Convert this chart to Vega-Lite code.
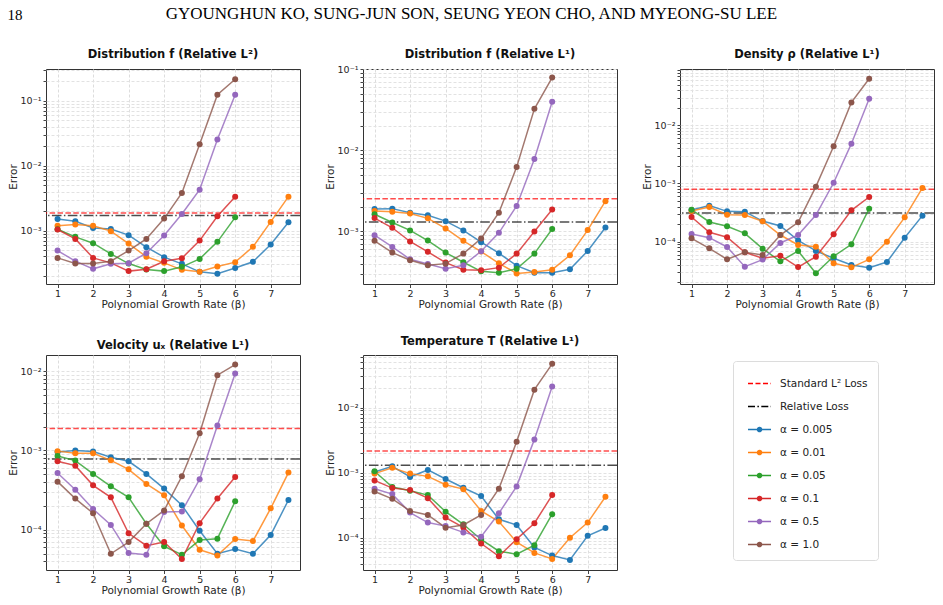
{
"$schema": "https://vega.github.io/schema/vega-lite/v6.json",
"background": "white",
"padding": {"left": 7, "top": 5, "right": 5, "bottom": 5},
"title": {"text": "18", "anchor": "start", "font": "Liberation Serif", "fontSize": 15, "fontWeight": "normal", "color": "#000", "offset": 0, "dy": 18, "frame": "bounds"},
"config": {
 "font": "DejaVu Sans",
 "view": {"stroke": "#333", "strokeWidth": 1},
 "axis": {"labelFont": "DejaVu Sans", "labelFontSize": 9.5, "labelColor": "#262626", "titleFont": "DejaVu Sans", "titleFontSize": 10.5, "titleFontWeight": "normal", "titleColor": "#262626", "tickColor": "#444", "domain": false, "labelPadding": 2, "titlePadding": 2},
 "title": {"font": "DejaVu Sans", "fontSize": 11.5, "fontWeight": "bold", "color": "#111", "offset": 4, "anchor": "middle", "frame": "group"}
},
"datasets": {
 "refs": [
  {"panel":"f2","series":"Standard L² Loss","error":1.87e-3},{"panel":"f2","series":"Relative Loss","error":1.70e-3},
  {"panel":"f1","series":"Standard L² Loss","error":2.52e-3},{"panel":"f1","series":"Relative Loss","error":1.31e-3},
  {"panel":"rho","series":"Standard L² Loss","error":7.94e-4},{"panel":"rho","series":"Relative Loss","error":3.11e-4},
  {"panel":"ux","series":"Standard L² Loss","error":1.89e-3},{"panel":"ux","series":"Relative Loss","error":7.81e-4},
  {"panel":"T","series":"Standard L² Loss","error":2.14e-3},{"panel":"T","series":"Relative Loss","error":1.30e-3}
 ],
 "pts": [
  {"panel":"f2","series":"α = 0.005","beta":1,"error":1.51e-3},{"panel":"f2","series":"α = 0.005","beta":1.5,"error":1.39e-3},{"panel":"f2","series":"α = 0.005","beta":2,"error":1.10e-3},{"panel":"f2","series":"α = 0.005","beta":2.5,"error":1.06e-3},{"panel":"f2","series":"α = 0.005","beta":3,"error":8.5e-4},{"panel":"f2","series":"α = 0.005","beta":3.5,"error":5.55e-4},{"panel":"f2","series":"α = 0.005","beta":4,"error":3.89e-4},{"panel":"f2","series":"α = 0.005","beta":4.5,"error":3.07e-4},{"panel":"f2","series":"α = 0.005","beta":5,"error":2.31e-4},{"panel":"f2","series":"α = 0.005","beta":5.5,"error":2.16e-4},{"panel":"f2","series":"α = 0.005","beta":6,"error":2.64e-4},{"panel":"f2","series":"α = 0.005","beta":6.5,"error":3.30e-4},{"panel":"f2","series":"α = 0.005","beta":7,"error":6.09e-4},{"panel":"f2","series":"α = 0.005","beta":7.5,"error":1.34e-3},
  {"panel":"f2","series":"α = 0.01","beta":1,"error":1.19e-3},{"panel":"f2","series":"α = 0.01","beta":1.5,"error":1.24e-3},{"panel":"f2","series":"α = 0.01","beta":2,"error":1.19e-3},{"panel":"f2","series":"α = 0.01","beta":2.5,"error":9.8e-4},{"panel":"f2","series":"α = 0.01","beta":3,"error":6.3e-4},{"panel":"f2","series":"α = 0.01","beta":3.5,"error":3.94e-4},{"panel":"f2","series":"α = 0.01","beta":4,"error":3.18e-4},{"panel":"f2","series":"α = 0.01","beta":4.5,"error":2.48e-4},{"panel":"f2","series":"α = 0.01","beta":5,"error":2.31e-4},{"panel":"f2","series":"α = 0.01","beta":5.5,"error":2.79e-4},{"panel":"f2","series":"α = 0.01","beta":6,"error":3.26e-4},{"panel":"f2","series":"α = 0.01","beta":6.5,"error":5.61e-4},{"panel":"f2","series":"α = 0.01","beta":7,"error":1.36e-3},{"panel":"f2","series":"α = 0.01","beta":7.5,"error":3.33e-3},
  {"panel":"f2","series":"α = 0.05","beta":1,"error":1.05e-3},{"panel":"f2","series":"α = 0.05","beta":1.5,"error":8.0e-4},{"panel":"f2","series":"α = 0.05","beta":2,"error":6.39e-4},{"panel":"f2","series":"α = 0.05","beta":2.5,"error":4.37e-4},{"panel":"f2","series":"α = 0.05","beta":3,"error":3.10e-4},{"panel":"f2","series":"α = 0.05","beta":3.5,"error":2.51e-4},{"panel":"f2","series":"α = 0.05","beta":4,"error":2.37e-4},{"panel":"f2","series":"α = 0.05","beta":4.5,"error":2.76e-4},{"panel":"f2","series":"α = 0.05","beta":5,"error":3.66e-4},{"panel":"f2","series":"α = 0.05","beta":5.5,"error":6.7e-4},{"panel":"f2","series":"α = 0.05","beta":6,"error":1.60e-3},
  {"panel":"f2","series":"α = 0.1","beta":1,"error":1.04e-3},{"panel":"f2","series":"α = 0.1","beta":1.5,"error":7.44e-4},{"panel":"f2","series":"α = 0.1","beta":2,"error":3.79e-4},{"panel":"f2","series":"α = 0.1","beta":2.5,"error":3.18e-4},{"panel":"f2","series":"α = 0.1","beta":3,"error":2.37e-4},{"panel":"f2","series":"α = 0.1","beta":3.5,"error":2.54e-4},{"panel":"f2","series":"α = 0.1","beta":4,"error":3.37e-4},{"panel":"f2","series":"α = 0.1","beta":4.5,"error":3.75e-4},{"panel":"f2","series":"α = 0.1","beta":5,"error":7.0e-4},{"panel":"f2","series":"α = 0.1","beta":5.5,"error":1.66e-3},{"panel":"f2","series":"α = 0.1","beta":6,"error":3.33e-3},
  {"panel":"f2","series":"α = 0.5","beta":1,"error":4.92e-4},{"panel":"f2","series":"α = 0.5","beta":1.5,"error":3.37e-4},{"panel":"f2","series":"α = 0.5","beta":2,"error":2.57e-4},{"panel":"f2","series":"α = 0.5","beta":2.5,"error":3.07e-4},{"panel":"f2","series":"α = 0.5","beta":3,"error":3.14e-4},{"panel":"f2","series":"α = 0.5","beta":3.5,"error":4.48e-4},{"panel":"f2","series":"α = 0.5","beta":4,"error":8.38e-4},{"panel":"f2","series":"α = 0.5","beta":4.5,"error":1.80e-3},{"panel":"f2","series":"α = 0.5","beta":5,"error":4.27e-3},{"panel":"f2","series":"α = 0.5","beta":5.5,"error":2.54e-2},{"panel":"f2","series":"α = 0.5","beta":6,"error":1.24e-1},
  {"panel":"f2","series":"α = 1.0","beta":1,"error":3.79e-4},{"panel":"f2","series":"α = 1.0","beta":1.5,"error":3.10e-4},{"panel":"f2","series":"α = 1.0","beta":2,"error":3.10e-4},{"panel":"f2","series":"α = 1.0","beta":2.5,"error":3.37e-4},{"panel":"f2","series":"α = 1.0","beta":3,"error":4.92e-4},{"panel":"f2","series":"α = 1.0","beta":3.5,"error":7.44e-4},{"panel":"f2","series":"α = 1.0","beta":4,"error":1.53e-3},{"panel":"f2","series":"α = 1.0","beta":4.5,"error":3.80e-3},{"panel":"f2","series":"α = 1.0","beta":5,"error":2.15e-2},{"panel":"f2","series":"α = 1.0","beta":5.5,"error":1.24e-1},{"panel":"f2","series":"α = 1.0","beta":6,"error":2.15e-1},

  {"panel":"f1","series":"α = 0.005","beta":1,"error":1.89e-3},{"panel":"f1","series":"α = 0.005","beta":1.5,"error":1.91e-3},{"panel":"f1","series":"α = 0.005","beta":2,"error":1.70e-3},{"panel":"f1","series":"α = 0.005","beta":2.5,"error":1.58e-3},{"panel":"f1","series":"α = 0.005","beta":3,"error":1.34e-3},{"panel":"f1","series":"α = 0.005","beta":3.5,"error":1.03e-3},{"panel":"f1","series":"α = 0.005","beta":4,"error":7.38e-4},{"panel":"f1","series":"α = 0.005","beta":4.5,"error":5.39e-4},{"panel":"f1","series":"α = 0.005","beta":5,"error":3.79e-4},{"panel":"f1","series":"α = 0.005","beta":5.5,"error":3.10e-4},{"panel":"f1","series":"α = 0.005","beta":6,"error":3.10e-4},{"panel":"f1","series":"α = 0.005","beta":6.5,"error":3.41e-4},{"panel":"f1","series":"α = 0.005","beta":7,"error":5.75e-4},{"panel":"f1","series":"α = 0.005","beta":7.5,"error":1.12e-3},
  {"panel":"f1","series":"α = 0.01","beta":1,"error":1.79e-3},{"panel":"f1","series":"α = 0.01","beta":1.5,"error":1.75e-3},{"panel":"f1","series":"α = 0.01","beta":2,"error":1.66e-3},{"panel":"f1","series":"α = 0.01","beta":2.5,"error":1.45e-3},{"panel":"f1","series":"α = 0.01","beta":3,"error":1.09e-3},{"panel":"f1","series":"α = 0.01","beta":3.5,"error":7.66e-4},{"panel":"f1","series":"α = 0.01","beta":4,"error":5.65e-4},{"panel":"f1","series":"α = 0.01","beta":4.5,"error":4.05e-4},{"panel":"f1","series":"α = 0.01","beta":5,"error":3.04e-4},{"panel":"f1","series":"α = 0.01","beta":5.5,"error":3.16e-4},{"panel":"f1","series":"α = 0.01","beta":6,"error":3.38e-4},{"panel":"f1","series":"α = 0.01","beta":6.5,"error":5.09e-4},{"panel":"f1","series":"α = 0.01","beta":7,"error":1.04e-3},{"panel":"f1","series":"α = 0.01","beta":7.5,"error":2.36e-3},
  {"panel":"f1","series":"α = 0.05","beta":1,"error":1.63e-3},{"panel":"f1","series":"α = 0.05","beta":1.5,"error":1.29e-3},{"panel":"f1","series":"α = 0.05","beta":2,"error":1.03e-3},{"panel":"f1","series":"α = 0.05","beta":2.5,"error":7.73e-4},{"panel":"f1","series":"α = 0.05","beta":3,"error":5.49e-4},{"panel":"f1","series":"α = 0.05","beta":3.5,"error":4.17e-4},{"panel":"f1","series":"α = 0.05","beta":4,"error":3.22e-4},{"panel":"f1","series":"α = 0.05","beta":4.5,"error":3.10e-4},{"panel":"f1","series":"α = 0.05","beta":5,"error":3.47e-4},{"panel":"f1","series":"α = 0.05","beta":5.5,"error":5.33e-4},{"panel":"f1","series":"α = 0.05","beta":6,"error":1.07e-3},
  {"panel":"f1","series":"α = 0.1","beta":1,"error":1.46e-3},{"panel":"f1","series":"α = 0.1","beta":1.5,"error":1.11e-3},{"panel":"f1","series":"α = 0.1","beta":2,"error":7.52e-4},{"panel":"f1","series":"α = 0.1","beta":2.5,"error":5.60e-4},{"panel":"f1","series":"α = 0.1","beta":3,"error":4.13e-4},{"panel":"f1","series":"α = 0.1","beta":3.5,"error":3.38e-4},{"panel":"f1","series":"α = 0.1","beta":4,"error":3.32e-4},{"panel":"f1","series":"α = 0.1","beta":4.5,"error":3.58e-4},{"panel":"f1","series":"α = 0.1","beta":5,"error":5.33e-4},{"panel":"f1","series":"α = 0.1","beta":5.5,"error":1.0e-3},{"panel":"f1","series":"α = 0.1","beta":6,"error":1.86e-3},
  {"panel":"f1","series":"α = 0.5","beta":1,"error":9.0e-4},{"panel":"f1","series":"α = 0.5","beta":1.5,"error":6.45e-4},{"panel":"f1","series":"α = 0.5","beta":2,"error":4.54e-4},{"panel":"f1","series":"α = 0.5","beta":2.5,"error":3.98e-4},{"panel":"f1","series":"α = 0.5","beta":3,"error":3.47e-4},{"panel":"f1","series":"α = 0.5","beta":3.5,"error":3.83e-4},{"panel":"f1","series":"α = 0.5","beta":4,"error":5.70e-4},{"panel":"f1","series":"α = 0.5","beta":4.5,"error":9.62e-4},{"panel":"f1","series":"α = 0.5","beta":5,"error":2.06e-3},{"panel":"f1","series":"α = 0.5","beta":5.5,"error":7.82e-3},{"panel":"f1","series":"α = 0.5","beta":6,"error":3.97e-2},
  {"panel":"f1","series":"α = 1.0","beta":1,"error":7.66e-4},{"panel":"f1","series":"α = 1.0","beta":1.5,"error":5.49e-4},{"panel":"f1","series":"α = 1.0","beta":2,"error":4.41e-4},{"panel":"f1","series":"α = 1.0","beta":2.5,"error":3.83e-4},{"panel":"f1","series":"α = 1.0","beta":3,"error":4.01e-4},{"panel":"f1","series":"α = 1.0","beta":3.5,"error":5.33e-4},{"panel":"f1","series":"α = 1.0","beta":4,"error":8.18e-4},{"panel":"f1","series":"α = 1.0","beta":4.5,"error":1.70e-3},{"panel":"f1","series":"α = 1.0","beta":5,"error":6.21e-3},{"panel":"f1","series":"α = 1.0","beta":5.5,"error":3.25e-2},{"panel":"f1","series":"α = 1.0","beta":6,"error":7.88e-2},

  {"panel":"rho","series":"α = 0.005","beta":1,"error":3.50e-4},{"panel":"rho","series":"α = 0.005","beta":1.5,"error":4.16e-4},{"panel":"rho","series":"α = 0.005","beta":2,"error":3.32e-4},{"panel":"rho","series":"α = 0.005","beta":2.5,"error":3.28e-4},{"panel":"rho","series":"α = 0.005","beta":3,"error":2.26e-4},{"panel":"rho","series":"α = 0.005","beta":3.5,"error":1.86e-4},{"panel":"rho","series":"α = 0.005","beta":4,"error":1.05e-4},{"panel":"rho","series":"α = 0.005","beta":4.5,"error":6.92e-5},{"panel":"rho","series":"α = 0.005","beta":5,"error":5.17e-5},{"panel":"rho","series":"α = 0.005","beta":5.5,"error":3.97e-5},{"panel":"rho","series":"α = 0.005","beta":6,"error":3.57e-5},{"panel":"rho","series":"α = 0.005","beta":6.5,"error":4.46e-5},{"panel":"rho","series":"α = 0.005","beta":7,"error":1.17e-4},{"panel":"rho","series":"α = 0.005","beta":7.5,"error":2.80e-4},
  {"panel":"rho","series":"α = 0.01","beta":1,"error":3.37e-4},{"panel":"rho","series":"α = 0.01","beta":1.5,"error":3.95e-4},{"panel":"rho","series":"α = 0.01","beta":2,"error":2.91e-4},{"panel":"rho","series":"α = 0.01","beta":2.5,"error":2.87e-4},{"panel":"rho","series":"α = 0.01","beta":3,"error":2.24e-4},{"panel":"rho","series":"α = 0.01","beta":3.5,"error":1.30e-4},{"panel":"rho","series":"α = 0.01","beta":4,"error":8.77e-5},{"panel":"rho","series":"α = 0.01","beta":4.5,"error":8.21e-5},{"panel":"rho","series":"α = 0.01","beta":5,"error":4.25e-5},{"panel":"rho","series":"α = 0.01","beta":5.5,"error":3.62e-5},{"panel":"rho","series":"α = 0.01","beta":6,"error":4.97e-5},{"panel":"rho","series":"α = 0.01","beta":6.5,"error":1.0e-4},{"panel":"rho","series":"α = 0.01","beta":7,"error":2.62e-4},{"panel":"rho","series":"α = 0.01","beta":7.5,"error":8.38e-4},
  {"panel":"rho","series":"α = 0.05","beta":1,"error":3.55e-4},{"panel":"rho","series":"α = 0.05","beta":1.5,"error":2.18e-4},{"panel":"rho","series":"α = 0.05","beta":2,"error":1.84e-4},{"panel":"rho","series":"α = 0.05","beta":2.5,"error":1.39e-4},{"panel":"rho","series":"α = 0.05","beta":3,"error":7.58e-5},{"panel":"rho","series":"α = 0.05","beta":3.5,"error":4.59e-5},{"panel":"rho","series":"α = 0.05","beta":4,"error":6.92e-5},{"panel":"rho","series":"α = 0.05","beta":4.5,"error":2.86e-5},{"panel":"rho","series":"α = 0.05","beta":5,"error":5.6e-5},{"panel":"rho","series":"α = 0.05","beta":5.5,"error":9.0e-5},{"panel":"rho","series":"α = 0.05","beta":6,"error":3.69e-4},
  {"panel":"rho","series":"α = 0.1","beta":1,"error":2.65e-4},{"panel":"rho","series":"α = 0.1","beta":1.5,"error":1.45e-4},{"panel":"rho","series":"α = 0.1","beta":2,"error":1.19e-4},{"panel":"rho","series":"α = 0.1","beta":2.5,"error":6.56e-5},{"panel":"rho","series":"α = 0.1","beta":3,"error":5.17e-5},{"panel":"rho","series":"α = 0.1","beta":3.5,"error":5.74e-5},{"panel":"rho","series":"α = 0.1","beta":4,"error":3.66e-5},{"panel":"rho","series":"α = 0.1","beta":4.5,"error":5.52e-5},{"panel":"rho","series":"α = 0.1","beta":5,"error":1.34e-4},{"panel":"rho","series":"α = 0.1","beta":5.5,"error":3.46e-4},{"panel":"rho","series":"α = 0.1","beta":6,"error":5.86e-4},
  {"panel":"rho","series":"α = 0.5","beta":1,"error":1.35e-4},{"panel":"rho","series":"α = 0.5","beta":1.5,"error":1.17e-4},{"panel":"rho","series":"α = 0.5","beta":2,"error":8.1e-5},{"panel":"rho","series":"α = 0.5","beta":2.5,"error":3.71e-5},{"panel":"rho","series":"α = 0.5","beta":3,"error":4.91e-5},{"panel":"rho","series":"α = 0.5","beta":3.5,"error":9.48e-5},{"panel":"rho","series":"α = 0.5","beta":4,"error":1.30e-4},{"panel":"rho","series":"α = 0.5","beta":4.5,"error":2.87e-4},{"panel":"rho","series":"α = 0.5","beta":5,"error":1.03e-3},{"panel":"rho","series":"α = 0.5","beta":5.5,"error":4.84e-3},{"panel":"rho","series":"α = 0.5","beta":6,"error":2.87e-2},
  {"panel":"rho","series":"α = 1.0","beta":1,"error":1.14e-4},{"panel":"rho","series":"α = 1.0","beta":1.5,"error":7.68e-5},{"panel":"rho","series":"α = 1.0","beta":2,"error":4.97e-5},{"panel":"rho","series":"α = 1.0","beta":2.5,"error":6.56e-5},{"panel":"rho","series":"α = 1.0","beta":3,"error":5.9e-5},{"panel":"rho","series":"α = 1.0","beta":3.5,"error":1.30e-4},{"panel":"rho","series":"α = 1.0","beta":4,"error":2.15e-4},{"panel":"rho","series":"α = 1.0","beta":4.5,"error":8.83e-4},{"panel":"rho","series":"α = 1.0","beta":5,"error":4.36e-3},{"panel":"rho","series":"α = 1.0","beta":5.5,"error":2.48e-2},{"panel":"rho","series":"α = 1.0","beta":6,"error":6.34e-2},

  {"panel":"ux","series":"α = 0.005","beta":1,"error":9.57e-4},{"panel":"ux","series":"α = 0.005","beta":1.5,"error":1.0e-3},{"panel":"ux","series":"α = 0.005","beta":2,"error":9.67e-4},{"panel":"ux","series":"α = 0.005","beta":2.5,"error":8.2e-4},{"panel":"ux","series":"α = 0.005","beta":3,"error":7.3e-4},{"panel":"ux","series":"α = 0.005","beta":3.5,"error":5.05e-4},{"panel":"ux","series":"α = 0.005","beta":4,"error":3.30e-4},{"panel":"ux","series":"α = 0.005","beta":4.5,"error":2.03e-4},{"panel":"ux","series":"α = 0.005","beta":5,"error":9.7e-5},{"panel":"ux","series":"α = 0.005","beta":5.5,"error":4.97e-5},{"panel":"ux","series":"α = 0.005","beta":6,"error":5.7e-5},{"panel":"ux","series":"α = 0.005","beta":6.5,"error":4.97e-5},{"panel":"ux","series":"α = 0.005","beta":7,"error":8.57e-5},{"panel":"ux","series":"α = 0.005","beta":7.5,"error":2.37e-4},
  {"panel":"ux","series":"α = 0.01","beta":1,"error":9.8e-4},{"panel":"ux","series":"α = 0.01","beta":1.5,"error":9.2e-4},{"panel":"ux","series":"α = 0.01","beta":2,"error":9.2e-4},{"panel":"ux","series":"α = 0.01","beta":2.5,"error":7.5e-4},{"panel":"ux","series":"α = 0.01","beta":3,"error":5.78e-4},{"panel":"ux","series":"α = 0.01","beta":3.5,"error":3.78e-4},{"panel":"ux","series":"α = 0.01","beta":4,"error":2.71e-4},{"panel":"ux","series":"α = 0.01","beta":4.5,"error":1.13e-4},{"panel":"ux","series":"α = 0.01","beta":5,"error":5.58e-5},{"panel":"ux","series":"α = 0.01","beta":5.5,"error":4.74e-5},{"panel":"ux","series":"α = 0.01","beta":6,"error":7.62e-5},{"panel":"ux","series":"α = 0.01","beta":6.5,"error":7.19e-5},{"panel":"ux","series":"α = 0.01","beta":7,"error":1.86e-4},{"panel":"ux","series":"α = 0.01","beta":7.5,"error":5.25e-4},
  {"panel":"ux","series":"α = 0.05","beta":1,"error":8.53e-4},{"panel":"ux","series":"α = 0.05","beta":1.5,"error":7.44e-4},{"panel":"ux","series":"α = 0.05","beta":2,"error":5.05e-4},{"panel":"ux","series":"α = 0.05","beta":2.5,"error":3.52e-4},{"panel":"ux","series":"α = 0.05","beta":3,"error":2.56e-4},{"panel":"ux","series":"α = 0.05","beta":3.5,"error":1.19e-4},{"panel":"ux","series":"α = 0.05","beta":4,"error":6.16e-5},{"panel":"ux","series":"α = 0.05","beta":4.5,"error":4.83e-5},{"panel":"ux","series":"α = 0.05","beta":5,"error":7.4e-5},{"panel":"ux","series":"α = 0.05","beta":5.5,"error":7.7e-5},{"panel":"ux","series":"α = 0.05","beta":6,"error":2.28e-4},
  {"panel":"ux","series":"α = 0.1","beta":1,"error":7.3e-4},{"panel":"ux","series":"α = 0.1","beta":1.5,"error":6.43e-4},{"panel":"ux","series":"α = 0.1","beta":2,"error":3.63e-4},{"panel":"ux","series":"α = 0.1","beta":2.5,"error":2.56e-4},{"panel":"ux","series":"α = 0.1","beta":3,"error":9.0e-5},{"panel":"ux","series":"α = 0.1","beta":3.5,"error":6.28e-5},{"panel":"ux","series":"α = 0.1","beta":4,"error":6.98e-5},{"panel":"ux","series":"α = 0.1","beta":4.5,"error":4.26e-5},{"panel":"ux","series":"α = 0.1","beta":5,"error":1.21e-4},{"panel":"ux","series":"α = 0.1","beta":5.5,"error":2.47e-4},{"panel":"ux","series":"α = 0.1","beta":6,"error":4.62e-4},
  {"panel":"ux","series":"α = 0.5","beta":1,"error":5.2e-4},{"panel":"ux","series":"α = 0.5","beta":1.5,"error":3.2e-4},{"panel":"ux","series":"α = 0.5","beta":2,"error":1.82e-4},{"panel":"ux","series":"α = 0.5","beta":2.5,"error":1.15e-4},{"panel":"ux","series":"α = 0.5","beta":3,"error":5.07e-5},{"panel":"ux","series":"α = 0.5","beta":3.5,"error":4.83e-5},{"panel":"ux","series":"α = 0.5","beta":4,"error":1.67e-4},{"panel":"ux","series":"α = 0.5","beta":4.5,"error":1.70e-4},{"panel":"ux","series":"α = 0.5","beta":5,"error":4.32e-4},{"panel":"ux","series":"α = 0.5","beta":5.5,"error":2.06e-3},{"panel":"ux","series":"α = 0.5","beta":6,"error":9.36e-3},
  {"panel":"ux","series":"α = 1.0","beta":1,"error":4.04e-4},{"panel":"ux","series":"α = 1.0","beta":1.5,"error":2.47e-4},{"panel":"ux","series":"α = 1.0","beta":2,"error":1.61e-4},{"panel":"ux","series":"α = 1.0","beta":2.5,"error":4.97e-5},{"panel":"ux","series":"α = 1.0","beta":3,"error":6.98e-5},{"panel":"ux","series":"α = 1.0","beta":3.5,"error":1.19e-4},{"panel":"ux","series":"α = 1.0","beta":4,"error":1.75e-4},{"panel":"ux","series":"α = 1.0","beta":4.5,"error":4.72e-4},{"panel":"ux","series":"α = 1.0","beta":5,"error":1.65e-3},{"panel":"ux","series":"α = 1.0","beta":5.5,"error":8.89e-3},{"panel":"ux","series":"α = 1.0","beta":6,"error":1.21e-2},

  {"panel":"T","series":"α = 0.005","beta":1,"error":1.02e-3},{"panel":"T","series":"α = 0.005","beta":1.5,"error":1.25e-3},{"panel":"T","series":"α = 0.005","beta":2,"error":8.57e-4},{"panel":"T","series":"α = 0.005","beta":2.5,"error":1.10e-3},{"panel":"T","series":"α = 0.005","beta":3,"error":7.98e-4},{"panel":"T","series":"α = 0.005","beta":3.5,"error":5.86e-4},{"panel":"T","series":"α = 0.005","beta":4,"error":4.36e-4},{"panel":"T","series":"α = 0.005","beta":4.5,"error":1.92e-4},{"panel":"T","series":"α = 0.005","beta":5,"error":1.57e-4},{"panel":"T","series":"α = 0.005","beta":5.5,"error":7.09e-5},{"panel":"T","series":"α = 0.005","beta":6,"error":5.33e-5},{"panel":"T","series":"α = 0.005","beta":6.5,"error":4.57e-5},{"panel":"T","series":"α = 0.005","beta":7,"error":1.07e-4},{"panel":"T","series":"α = 0.005","beta":7.5,"error":1.41e-4},
  {"panel":"T","series":"α = 0.01","beta":1,"error":9.66e-4},{"panel":"T","series":"α = 0.01","beta":1.5,"error":1.19e-3},{"panel":"T","series":"α = 0.01","beta":2,"error":9.66e-4},{"panel":"T","series":"α = 0.01","beta":2.5,"error":8.77e-4},{"panel":"T","series":"α = 0.01","beta":3,"error":6.52e-4},{"panel":"T","series":"α = 0.01","beta":3.5,"error":5.58e-4},{"panel":"T","series":"α = 0.01","beta":4,"error":2.58e-4},{"panel":"T","series":"α = 0.01","beta":4.5,"error":1.77e-4},{"panel":"T","series":"α = 0.01","beta":5,"error":8.57e-5},{"panel":"T","series":"α = 0.01","beta":5.5,"error":5.86e-5},{"panel":"T","series":"α = 0.01","beta":6,"error":4.73e-5},{"panel":"T","series":"α = 0.01","beta":6.5,"error":1.0e-4},{"panel":"T","series":"α = 0.01","beta":7,"error":1.71e-4},{"panel":"T","series":"α = 0.01","beta":7.5,"error":4.26e-4},
  {"panel":"T","series":"α = 0.05","beta":1,"error":1.05e-3},{"panel":"T","series":"α = 0.05","beta":1.5,"error":6.0e-4},{"panel":"T","series":"α = 0.05","beta":2,"error":5.27e-4},{"panel":"T","series":"α = 0.05","beta":2.5,"error":4.52e-4},{"panel":"T","series":"α = 0.05","beta":3,"error":2.52e-4},{"panel":"T","series":"α = 0.05","beta":3.5,"error":1.61e-4},{"panel":"T","series":"α = 0.05","beta":4,"error":9.42e-5},{"panel":"T","series":"α = 0.05","beta":4.5,"error":6.22e-5},{"panel":"T","series":"α = 0.05","beta":5,"error":5.59e-5},{"panel":"T","series":"α = 0.05","beta":5.5,"error":7.7e-5},{"panel":"T","series":"α = 0.05","beta":6,"error":2.3e-4},
  {"panel":"T","series":"α = 0.1","beta":1,"error":7.6e-4},{"panel":"T","series":"α = 0.1","beta":1.5,"error":5.79e-4},{"panel":"T","series":"α = 0.1","beta":2,"error":5.39e-4},{"panel":"T","series":"α = 0.1","beta":2.5,"error":4.06e-4},{"panel":"T","series":"α = 0.1","beta":3,"error":2.04e-4},{"panel":"T","series":"α = 0.1","beta":3.5,"error":1.44e-4},{"panel":"T","series":"α = 0.1","beta":4,"error":8.17e-5},{"panel":"T","series":"α = 0.1","beta":4.5,"error":5.2e-5},{"panel":"T","series":"α = 0.1","beta":5,"error":9.53e-5},{"panel":"T","series":"α = 0.1","beta":5.5,"error":1.67e-4},{"panel":"T","series":"α = 0.1","beta":6,"error":4.52e-4},
  {"panel":"T","series":"α = 0.5","beta":1,"error":5.66e-4},{"panel":"T","series":"α = 0.5","beta":1.5,"error":4.68e-4},{"panel":"T","series":"α = 0.5","beta":2,"error":2.44e-4},{"panel":"T","series":"α = 0.5","beta":2.5,"error":1.71e-4},{"panel":"T","series":"α = 0.5","beta":3,"error":1.51e-4},{"panel":"T","series":"α = 0.5","beta":3.5,"error":1.21e-4},{"panel":"T","series":"α = 0.5","beta":4,"error":1.04e-4},{"panel":"T","series":"α = 0.5","beta":4.5,"error":2.38e-4},{"panel":"T","series":"α = 0.5","beta":5,"error":6.15e-4},{"panel":"T","series":"α = 0.5","beta":5.5,"error":3.24e-3},{"panel":"T","series":"α = 0.5","beta":6,"error":2.11e-2},
  {"panel":"T","series":"α = 1.0","beta":1,"error":5.14e-4},{"panel":"T","series":"α = 1.0","beta":1.5,"error":3.96e-4},{"panel":"T","series":"α = 1.0","beta":2,"error":2.58e-4},{"panel":"T","series":"α = 1.0","beta":2.5,"error":2.24e-4},{"panel":"T","series":"α = 1.0","beta":3,"error":1.43e-4},{"panel":"T","series":"α = 1.0","beta":3.5,"error":1.57e-4},{"panel":"T","series":"α = 1.0","beta":4,"error":2.24e-4},{"panel":"T","series":"α = 1.0","beta":4.5,"error":5.66e-4},{"panel":"T","series":"α = 1.0","beta":5,"error":2.98e-3},{"panel":"T","series":"α = 1.0","beta":5.5,"error":1.88e-2},{"panel":"T","series":"α = 1.0","beta":6,"error":4.68e-2}
 ]
},
"spacing": 24,
"resolve": {"scale": {"color": "shared", "shape": "shared", "strokeDash": "shared", "x": "independent", "y": "independent"}},
"vconcat": [
 {
  "title": {"text": "GYOUNGHUN KO, SUNG-JUN SON, SEUNG YEON CHO, AND MYEONG-SU LEE", "anchor": "middle", "font": "Liberation Serif", "fontSize": 17, "fontWeight": "normal", "color": "#000", "offset": 25, "frame": "bounds"},
  "spacing": 22,
  "resolve": {"scale": {"color": "shared", "x": "independent", "y": "independent"}},
  "hconcat": [
   {
    "width": 254, "height": 215,
    "title": {"text": "Distribution f (Relative L²)"},
    "layer": [
     {"data": {"name": "refs"}, "transform": [{"filter": "datum.panel === 'f2' && datum.series === 'Standard L² Loss'"}],
      "mark": {"type": "rule", "color": "#ff0000", "opacity": 0.7, "strokeWidth": 1.5, "strokeDash": [5.5, 2.4]},
      "encoding": {"y": {"field": "error", "type": "quantitative", "scale": {"type": "log", "domain": [1.5e-4, 0.31], "nice": false}}}},
     {"data": {"name": "refs"}, "transform": [{"filter": "datum.panel === 'f2' && datum.series === 'Relative Loss'"}],
      "mark": {"type": "rule", "color": "#000000", "opacity": 0.7, "strokeWidth": 1.5, "strokeDash": [9.6, 2.4, 1.5, 2.4]},
      "encoding": {"y": {"field": "error", "type": "quantitative", "scale": {"type": "log", "domain": [1.5e-4, 0.31], "nice": false}}}},
     {"data": {"name": "pts"}, "transform": [{"filter": "datum.panel === 'f2'"}],
      "mark": {"type": "line", "strokeWidth": 1.5, "opacity": 0.8},
      "encoding": {
       "x": {"field": "beta", "type": "quantitative", "scale": {"domain": [0.675, 7.825], "nice": false, "zero": false}, "axis": {"orient": "bottom", "values": [1, 2, 3, 4, 5, 6, 7], "format": "d", "title": "Polynomial Growth Rate (β)", "grid": true, "gridColor": "#dddddd", "gridDash": [3, 2], "tickSize": 3.5, "labelPadding": 0.5}},
       "y": {"field": "error", "type": "quantitative", "scale": {"type": "log", "domain": [1.5e-4, 0.31], "nice": false}, "axis": {"orient": "left", "tickCount": 20, "labelOverlap": false, "labelExpr": "abs(log(datum.value)/LN10 - round(log(datum.value)/LN10)) < 0.001 ? '10' + ['⁰','⁻¹','⁻²','⁻³','⁻⁴','⁻⁵'][-round(log(datum.value)/LN10)] : ''", "title": "Error", "grid": true, "gridColor": "#e2e2e2", "gridDash": [3, 2], "tickSize": 3}},
       "color": {"field": "series", "type": "nominal",
        "scale": {"domain": ["Standard L² Loss", "Relative Loss", "α = 0.005", "α = 0.01", "α = 0.05", "α = 0.1", "α = 0.5", "α = 1.0"], "range": ["#ff0000", "#000000", "#1f77b4", "#ff7f0e", "#2ca02c", "#d62728", "#9467bd", "#8c564b"]},
        "legend": {"orient": "none", "legendX": 687, "legendY": 292, "title": null, "labelFont": "DejaVu Sans", "labelFontSize": 10.5, "labelColor": "#222", "labelOffset": 8, "labelLimit": 200, "symbolSize": 529, "symbolStrokeWidth": 1.5, "symbolOpacity": 0.85, "symbolOffset": 4, "padding": 10, "rowPadding": 5, "strokeColor": "#dcdcdc", "cornerRadius": 3, "fillColor": "#ffffff"}}}},
     {"data": {"name": "pts"}, "transform": [{"filter": "datum.panel === 'f2'"}],
      "mark": {"type": "point", "filled": true, "size": 36, "opacity": 1},
      "encoding": {
       "x": {"field": "beta", "type": "quantitative", "scale": {"domain": [0.675, 7.825], "nice": false, "zero": false}},
       "y": {"field": "error", "type": "quantitative", "scale": {"type": "log", "domain": [1.5e-4, 0.31], "nice": false}},
       "color": {"field": "series", "type": "nominal", "scale": {"domain": ["Standard L² Loss", "Relative Loss", "α = 0.005", "α = 0.01", "α = 0.05", "α = 0.1", "α = 0.5", "α = 1.0"], "range": ["#ff0000", "#000000", "#1f77b4", "#ff7f0e", "#2ca02c", "#d62728", "#9467bd", "#8c564b"]}}}},
     {"data": {"name": "pts"}, "transform": [{"filter": "false"}],
      "mark": {"type": "line", "strokeWidth": 1.5},
      "encoding": {
       "x": {"field": "beta", "type": "quantitative", "scale": {"domain": [0.675, 7.825], "nice": false, "zero": false}},
       "y": {"field": "error", "type": "quantitative", "scale": {"type": "log", "domain": [1.5e-4, 0.31], "nice": false}},
       "color": {"field": "series", "type": "nominal", "scale": {"domain": ["Standard L² Loss", "Relative Loss", "α = 0.005", "α = 0.01", "α = 0.05", "α = 0.1", "α = 0.5", "α = 1.0"], "range": ["#ff0000", "#000000", "#1f77b4", "#ff7f0e", "#2ca02c", "#d62728", "#9467bd", "#8c564b"]}},
       "strokeDash": {"field": "series", "type": "nominal", "scale": {"domain": ["Standard L² Loss", "Relative Loss", "α = 0.005", "α = 0.01", "α = 0.05", "α = 0.1", "α = 0.5", "α = 1.0"], "range": [[5, 2.5], [7, 2.4, 1.5, 2.4], [1, 0], [1, 0], [1, 0], [1, 0], [1, 0], [1, 0]]}}}},
     {"data": {"name": "pts"}, "transform": [{"filter": "false"}],
      "mark": {"type": "point", "filled": true},
      "encoding": {
       "x": {"field": "beta", "type": "quantitative", "scale": {"domain": [0.675, 7.825], "nice": false, "zero": false}},
       "y": {"field": "error", "type": "quantitative", "scale": {"type": "log", "domain": [1.5e-4, 0.31], "nice": false}},
       "color": {"field": "series", "type": "nominal", "scale": {"domain": ["Standard L² Loss", "Relative Loss", "α = 0.005", "α = 0.01", "α = 0.05", "α = 0.1", "α = 0.5", "α = 1.0"], "range": ["#ff0000", "#000000", "#1f77b4", "#ff7f0e", "#2ca02c", "#d62728", "#9467bd", "#8c564b"]}},
       "shape": {"field": "series", "type": "nominal", "scale": {"domain": ["Standard L² Loss", "Relative Loss", "α = 0.005", "α = 0.01", "α = 0.05", "α = 0.1", "α = 0.5", "α = 1.0"], "range": ["M-1,0H1", "M-1,0H1", "M-1,0H1M-0.18,0A0.18,0.18,0,1,1,0.18,0A0.18,0.18,0,1,1,-0.18,0Z", "M-1,0H1M-0.18,0A0.18,0.18,0,1,1,0.18,0A0.18,0.18,0,1,1,-0.18,0Z", "M-1,0H1M-0.18,0A0.18,0.18,0,1,1,0.18,0A0.18,0.18,0,1,1,-0.18,0Z", "M-1,0H1M-0.18,0A0.18,0.18,0,1,1,0.18,0A0.18,0.18,0,1,1,-0.18,0Z", "M-1,0H1M-0.18,0A0.18,0.18,0,1,1,0.18,0A0.18,0.18,0,1,1,-0.18,0Z", "M-1,0H1M-0.18,0A0.18,0.18,0,1,1,0.18,0A0.18,0.18,0,1,1,-0.18,0Z"]}}}}
    ]
   },
   {
    "width": 254, "height": 215,
    "title": {"text": "Distribution f (Relative L¹)"},
    "layer": [
     {"data": {"name": "refs"}, "transform": [{"filter": "datum.panel === 'f1' && datum.series === 'Standard L² Loss'"}],
      "mark": {"type": "rule", "color": "#ff0000", "opacity": 0.7, "strokeWidth": 1.5, "strokeDash": [5.5, 2.4]},
      "encoding": {"y": {"field": "error", "type": "quantitative", "scale": {"type": "log", "domain": [2.25e-4, 0.1005], "nice": false}}}},
     {"data": {"name": "refs"}, "transform": [{"filter": "datum.panel === 'f1' && datum.series === 'Relative Loss'"}],
      "mark": {"type": "rule", "color": "#000000", "opacity": 0.7, "strokeWidth": 1.5, "strokeDash": [9.6, 2.4, 1.5, 2.4]},
      "encoding": {"y": {"field": "error", "type": "quantitative", "scale": {"type": "log", "domain": [2.25e-4, 0.1005], "nice": false}}}},
     {"data": {"name": "pts"}, "transform": [{"filter": "datum.panel === 'f1'"}],
      "mark": {"type": "line", "strokeWidth": 1.5, "opacity": 0.8},
      "encoding": {
       "x": {"field": "beta", "type": "quantitative", "scale": {"domain": [0.675, 7.825], "nice": false, "zero": false}, "axis": {"orient": "bottom", "values": [1, 2, 3, 4, 5, 6, 7], "format": "d", "title": "Polynomial Growth Rate (β)", "grid": true, "gridColor": "#dddddd", "gridDash": [3, 2], "tickSize": 3.5, "labelPadding": 0.5}},
       "y": {"field": "error", "type": "quantitative", "scale": {"type": "log", "domain": [2.25e-4, 0.1005], "nice": false}, "axis": {"orient": "left", "tickCount": 20, "labelOverlap": false, "labelExpr": "abs(log(datum.value)/LN10 - round(log(datum.value)/LN10)) < 0.001 ? '10' + ['⁰','⁻¹','⁻²','⁻³','⁻⁴','⁻⁵'][-round(log(datum.value)/LN10)] : ''", "title": "Error", "grid": true, "gridColor": "#e2e2e2", "gridDash": [3, 2], "tickSize": 3}},
       "color": {"field": "series", "type": "nominal", "scale": {"domain": ["Standard L² Loss", "Relative Loss", "α = 0.005", "α = 0.01", "α = 0.05", "α = 0.1", "α = 0.5", "α = 1.0"], "range": ["#ff0000", "#000000", "#1f77b4", "#ff7f0e", "#2ca02c", "#d62728", "#9467bd", "#8c564b"]}}}},
     {"data": {"name": "pts"}, "transform": [{"filter": "datum.panel === 'f1'"}],
      "mark": {"type": "point", "filled": true, "size": 36, "opacity": 1},
      "encoding": {
       "x": {"field": "beta", "type": "quantitative", "scale": {"domain": [0.675, 7.825], "nice": false, "zero": false}},
       "y": {"field": "error", "type": "quantitative", "scale": {"type": "log", "domain": [2.25e-4, 0.1005], "nice": false}},
       "color": {"field": "series", "type": "nominal", "scale": {"domain": ["Standard L² Loss", "Relative Loss", "α = 0.005", "α = 0.01", "α = 0.05", "α = 0.1", "α = 0.5", "α = 1.0"], "range": ["#ff0000", "#000000", "#1f77b4", "#ff7f0e", "#2ca02c", "#d62728", "#9467bd", "#8c564b"]}}}}
    ]
   },
   {
    "width": 254, "height": 215,
    "title": {"text": "Density ρ (Relative L¹)"},
    "layer": [
     {"data": {"name": "refs"}, "transform": [{"filter": "datum.panel === 'rho' && datum.series === 'Standard L² Loss'"}],
      "mark": {"type": "rule", "color": "#ff0000", "opacity": 0.7, "strokeWidth": 1.5, "strokeDash": [5.5, 2.4]},
      "encoding": {"y": {"field": "error", "type": "quantitative", "scale": {"type": "log", "domain": [1.87e-5, 0.093], "nice": false}}}},
     {"data": {"name": "refs"}, "transform": [{"filter": "datum.panel === 'rho' && datum.series === 'Relative Loss'"}],
      "mark": {"type": "rule", "color": "#000000", "opacity": 0.7, "strokeWidth": 1.5, "strokeDash": [9.6, 2.4, 1.5, 2.4]},
      "encoding": {"y": {"field": "error", "type": "quantitative", "scale": {"type": "log", "domain": [1.87e-5, 0.093], "nice": false}}}},
     {"data": {"name": "pts"}, "transform": [{"filter": "datum.panel === 'rho'"}],
      "mark": {"type": "line", "strokeWidth": 1.5, "opacity": 0.8},
      "encoding": {
       "x": {"field": "beta", "type": "quantitative", "scale": {"domain": [0.675, 7.825], "nice": false, "zero": false}, "axis": {"orient": "bottom", "values": [1, 2, 3, 4, 5, 6, 7], "format": "d", "title": "Polynomial Growth Rate (β)", "grid": true, "gridColor": "#dddddd", "gridDash": [3, 2], "tickSize": 3.5, "labelPadding": 0.5}},
       "y": {"field": "error", "type": "quantitative", "scale": {"type": "log", "domain": [1.87e-5, 0.093], "nice": false}, "axis": {"orient": "left", "tickCount": 20, "labelOverlap": false, "labelExpr": "abs(log(datum.value)/LN10 - round(log(datum.value)/LN10)) < 0.001 ? '10' + ['⁰','⁻¹','⁻²','⁻³','⁻⁴','⁻⁵'][-round(log(datum.value)/LN10)] : ''", "title": "Error", "grid": true, "gridColor": "#e2e2e2", "gridDash": [3, 2], "tickSize": 3}},
       "color": {"field": "series", "type": "nominal", "scale": {"domain": ["Standard L² Loss", "Relative Loss", "α = 0.005", "α = 0.01", "α = 0.05", "α = 0.1", "α = 0.5", "α = 1.0"], "range": ["#ff0000", "#000000", "#1f77b4", "#ff7f0e", "#2ca02c", "#d62728", "#9467bd", "#8c564b"]}}}},
     {"data": {"name": "pts"}, "transform": [{"filter": "datum.panel === 'rho'"}],
      "mark": {"type": "point", "filled": true, "size": 36, "opacity": 1},
      "encoding": {
       "x": {"field": "beta", "type": "quantitative", "scale": {"domain": [0.675, 7.825], "nice": false, "zero": false}},
       "y": {"field": "error", "type": "quantitative", "scale": {"type": "log", "domain": [1.87e-5, 0.093], "nice": false}},
       "color": {"field": "series", "type": "nominal", "scale": {"domain": ["Standard L² Loss", "Relative Loss", "α = 0.005", "α = 0.01", "α = 0.05", "α = 0.1", "α = 0.5", "α = 1.0"], "range": ["#ff0000", "#000000", "#1f77b4", "#ff7f0e", "#2ca02c", "#d62728", "#9467bd", "#8c564b"]}}}}
    ]
   }
  ]
 },
 {
  "spacing": 22,
  "resolve": {"scale": {"color": "shared", "x": "independent", "y": "independent"}},
  "hconcat": [
   {
    "width": 254, "height": 215,
    "title": {"text": "Velocity uₓ (Relative L¹)"},
    "layer": [
     {"data": {"name": "refs"}, "transform": [{"filter": "datum.panel === 'ux' && datum.series === 'Standard L² Loss'"}],
      "mark": {"type": "rule", "color": "#ff0000", "opacity": 0.7, "strokeWidth": 1.5, "strokeDash": [5.5, 2.4]},
      "encoding": {"y": {"field": "error", "type": "quantitative", "scale": {"type": "log", "domain": [3.1e-5, 0.016], "nice": false}}}},
     {"data": {"name": "refs"}, "transform": [{"filter": "datum.panel === 'ux' && datum.series === 'Relative Loss'"}],
      "mark": {"type": "rule", "color": "#000000", "opacity": 0.7, "strokeWidth": 1.5, "strokeDash": [9.6, 2.4, 1.5, 2.4]},
      "encoding": {"y": {"field": "error", "type": "quantitative", "scale": {"type": "log", "domain": [3.1e-5, 0.016], "nice": false}}}},
     {"data": {"name": "pts"}, "transform": [{"filter": "datum.panel === 'ux'"}],
      "mark": {"type": "line", "strokeWidth": 1.5, "opacity": 0.8},
      "encoding": {
       "x": {"field": "beta", "type": "quantitative", "scale": {"domain": [0.675, 7.825], "nice": false, "zero": false}, "axis": {"orient": "bottom", "values": [1, 2, 3, 4, 5, 6, 7], "format": "d", "title": "Polynomial Growth Rate (β)", "grid": true, "gridColor": "#dddddd", "gridDash": [3, 2], "tickSize": 3.5, "labelPadding": 0.5}},
       "y": {"field": "error", "type": "quantitative", "scale": {"type": "log", "domain": [3.1e-5, 0.016], "nice": false}, "axis": {"orient": "left", "tickCount": 20, "labelOverlap": false, "labelExpr": "abs(log(datum.value)/LN10 - round(log(datum.value)/LN10)) < 0.001 ? '10' + ['⁰','⁻¹','⁻²','⁻³','⁻⁴','⁻⁵'][-round(log(datum.value)/LN10)] : ''", "title": "Error", "grid": true, "gridColor": "#e2e2e2", "gridDash": [3, 2], "tickSize": 3}},
       "color": {"field": "series", "type": "nominal", "scale": {"domain": ["Standard L² Loss", "Relative Loss", "α = 0.005", "α = 0.01", "α = 0.05", "α = 0.1", "α = 0.5", "α = 1.0"], "range": ["#ff0000", "#000000", "#1f77b4", "#ff7f0e", "#2ca02c", "#d62728", "#9467bd", "#8c564b"]}}}},
     {"data": {"name": "pts"}, "transform": [{"filter": "datum.panel === 'ux'"}],
      "mark": {"type": "point", "filled": true, "size": 36, "opacity": 1},
      "encoding": {
       "x": {"field": "beta", "type": "quantitative", "scale": {"domain": [0.675, 7.825], "nice": false, "zero": false}},
       "y": {"field": "error", "type": "quantitative", "scale": {"type": "log", "domain": [3.1e-5, 0.016], "nice": false}},
       "color": {"field": "series", "type": "nominal", "scale": {"domain": ["Standard L² Loss", "Relative Loss", "α = 0.005", "α = 0.01", "α = 0.05", "α = 0.1", "α = 0.5", "α = 1.0"], "range": ["#ff0000", "#000000", "#1f77b4", "#ff7f0e", "#2ca02c", "#d62728", "#9467bd", "#8c564b"]}}}}
    ]
   },
   {
    "width": 254, "height": 215,
    "title": {"text": "Temperature T (Relative L¹)"},
    "layer": [
     {"data": {"name": "refs"}, "transform": [{"filter": "datum.panel === 'T' && datum.series === 'Standard L² Loss'"}],
      "mark": {"type": "rule", "color": "#ff0000", "opacity": 0.7, "strokeWidth": 1.5, "strokeDash": [5.5, 2.4]},
      "encoding": {"y": {"field": "error", "type": "quantitative", "scale": {"type": "log", "domain": [3.2e-5, 0.064], "nice": false}}}},
     {"data": {"name": "refs"}, "transform": [{"filter": "datum.panel === 'T' && datum.series === 'Relative Loss'"}],
      "mark": {"type": "rule", "color": "#000000", "opacity": 0.7, "strokeWidth": 1.5, "strokeDash": [9.6, 2.4, 1.5, 2.4]},
      "encoding": {"y": {"field": "error", "type": "quantitative", "scale": {"type": "log", "domain": [3.2e-5, 0.064], "nice": false}}}},
     {"data": {"name": "pts"}, "transform": [{"filter": "datum.panel === 'T'"}],
      "mark": {"type": "line", "strokeWidth": 1.5, "opacity": 0.8},
      "encoding": {
       "x": {"field": "beta", "type": "quantitative", "scale": {"domain": [0.675, 7.825], "nice": false, "zero": false}, "axis": {"orient": "bottom", "values": [1, 2, 3, 4, 5, 6, 7], "format": "d", "title": "Polynomial Growth Rate (β)", "grid": true, "gridColor": "#dddddd", "gridDash": [3, 2], "tickSize": 3.5, "labelPadding": 0.5}},
       "y": {"field": "error", "type": "quantitative", "scale": {"type": "log", "domain": [3.2e-5, 0.064], "nice": false}, "axis": {"orient": "left", "tickCount": 20, "labelOverlap": false, "labelExpr": "abs(log(datum.value)/LN10 - round(log(datum.value)/LN10)) < 0.001 ? '10' + ['⁰','⁻¹','⁻²','⁻³','⁻⁴','⁻⁵'][-round(log(datum.value)/LN10)] : ''", "title": "Error", "grid": true, "gridColor": "#e2e2e2", "gridDash": [3, 2], "tickSize": 3}},
       "color": {"field": "series", "type": "nominal", "scale": {"domain": ["Standard L² Loss", "Relative Loss", "α = 0.005", "α = 0.01", "α = 0.05", "α = 0.1", "α = 0.5", "α = 1.0"], "range": ["#ff0000", "#000000", "#1f77b4", "#ff7f0e", "#2ca02c", "#d62728", "#9467bd", "#8c564b"]}}}},
     {"data": {"name": "pts"}, "transform": [{"filter": "datum.panel === 'T'"}],
      "mark": {"type": "point", "filled": true, "size": 36, "opacity": 1},
      "encoding": {
       "x": {"field": "beta", "type": "quantitative", "scale": {"domain": [0.675, 7.825], "nice": false, "zero": false}},
       "y": {"field": "error", "type": "quantitative", "scale": {"type": "log", "domain": [3.2e-5, 0.064], "nice": false}},
       "color": {"field": "series", "type": "nominal", "scale": {"domain": ["Standard L² Loss", "Relative Loss", "α = 0.005", "α = 0.01", "α = 0.05", "α = 0.1", "α = 0.5", "α = 1.0"], "range": ["#ff0000", "#000000", "#1f77b4", "#ff7f0e", "#2ca02c", "#d62728", "#9467bd", "#8c564b"]}}}}
    ]
   }
  ]
 }
]
}
